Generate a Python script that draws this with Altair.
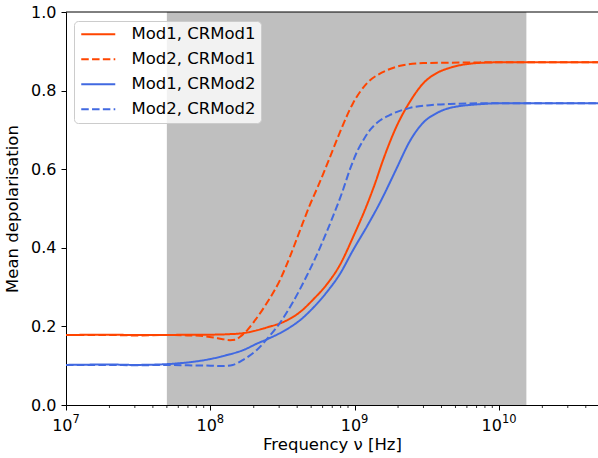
import altair as alt
import pandas as pd

# ---- data ----
f_r1 = [1e7, 2e7, 3e7, 5e7, 7e7, 1e8, 1.3e8, 1.7e8, 2.1e8, 2.5e8, 3.2e8, 4.2e8, 5.15e8, 6.45e8,
        7.9e8, 9.75e8, 1.22e9, 1.38e9, 1.57e9, 1.97e9, 2.42e9, 2.98e9, 3.72e9, 4.58e9, 7.0e9,
        1e10, 2e10, 5e10]
v_r1 = [0.178, 0.179, 0.178, 0.178, 0.179, 0.179, 0.180, 0.183, 0.190, 0.198, 0.211, 0.237,
        0.268, 0.308, 0.356, 0.427, 0.510, 0.562, 0.622, 0.712, 0.772, 0.818, 0.845, 0.858,
        0.870, 0.872, 0.872, 0.872]

f_r2 = [1e7, 2e7, 3e7, 5e7, 7e7, 8.5e7, 1.05e8, 1.2e8, 1.37e8, 1.5e8, 1.6e8, 1.8e8, 1.98e8,
        2.47e8, 3.04e8, 3.56e8, 4.19e8, 4.91e8, 5.6e8, 6.44e8, 7.93e8, 9.75e8, 1.22e9, 1.57e9,
        2.07e9, 2.98e9, 4.58e9, 1e10, 2e10, 5e10]
v_r2 = [0.178, 0.178, 0.177, 0.178, 0.177, 0.176, 0.172, 0.168, 0.165, 0.166, 0.173, 0.190,
        0.209, 0.260, 0.318, 0.377, 0.445, 0.510, 0.558, 0.612, 0.695, 0.768, 0.819, 0.847,
        0.863, 0.870, 0.871, 0.872, 0.872, 0.872]

f_b1 = [1e7, 2e7, 3e7, 5e7, 6e7, 8e7, 1e8, 1.3e8, 1.7e8, 2.1e8, 2.5e8, 3.4e8, 4.19e8, 5.15e8,
        6.44e8, 7.93e8, 9.75e8, 1.22e9, 1.5e9, 1.83e9, 1.96e9, 2.42e9, 2.98e9, 3.72e9,
        4.58e9, 7.8e9, 1e10, 2e10, 5e10]
v_b1 = [0.102, 0.103, 0.102, 0.104, 0.106, 0.111, 0.117, 0.127, 0.140, 0.156, 0.168, 0.193,
        0.216, 0.247, 0.288, 0.334, 0.394, 0.455, 0.515, 0.580, 0.603, 0.672, 0.718,
        0.743, 0.756, 0.766, 0.768, 0.768, 0.768]

f_b2 = [1e7, 2e7, 3e7, 5e7, 7e7, 1e8, 1.2e8, 1.43e8, 1.69e8, 2.1e8, 2.5e8, 3.04e8, 3.74e8,
        4.68e8, 5.75e8, 7.08e8, 8.18e8, 9.29e8, 1.05e9, 1.14e9, 1.28e9, 1.43e9, 1.76e9, 2.42e9,
        3.32e9, 4.58e9, 1e10, 2e10, 5e10]
v_b2 = [0.102, 0.102, 0.101, 0.102, 0.101, 0.100, 0.099, 0.102, 0.115, 0.140, 0.170, 0.209,
        0.262, 0.330, 0.400, 0.480, 0.540, 0.600, 0.648, 0.672, 0.700, 0.718, 0.738, 0.756,
        0.763, 0.766, 0.768, 0.768, 0.768]

series_names = ["Mod1, CRMod1", "Mod2, CRMod1", "Mod1, CRMod2", "Mod2, CRMod2"]
series_colors = ["#ff4500", "#ff4500", "#4169e1", "#4169e1"]
series_dash = [[1, 0], [7.5, 3.3], [1, 0], [7.5, 3.3]]

band_lo = [5e7]
band_hi = [1.55e10]

major_ticks = [1e7, 1e8, 1e9, 1e10]
major_exps = ["7", "8", "9", "10"]
minor_ticks = [m * 10 ** e for e in range(7, 11) for m in range(2, 10)]
y_ticks = [0.0, 0.2, 0.4, 0.6, 0.8, 1.0]

# ---- tables ----
rows = []
for name, fs, vs in zip(series_names, [f_r1, f_r2, f_b1, f_b2], [v_r1, v_r2, v_b1, v_b2]):
    for i, (f, v) in enumerate(zip(fs, vs)):
        rows.append({"series": name, "freq": f, "val": v, "order": i})
df = pd.DataFrame(rows)
band_df = pd.DataFrame({"lo": band_lo, "hi": band_hi, "y0": [0.0], "y1": [1.0]})
minor_df = pd.DataFrame({"t": [t for t in minor_ticks if t <= 4.86e10]})
major_df = pd.DataFrame({"t": major_ticks, "e": major_exps,
                         "n": [len(e) for e in major_exps]})

W, H = 532, 393
FONT = "DejaVu Sans"
xscale = alt.Scale(type="log", domain=[1e7, 4.86e10], nice=False)
yscale = alt.Scale(domain=[0, 1], nice=False)

band = alt.Chart(band_df).mark_rect(color="#bfbfbf").encode(
    x=alt.X("lo:Q", scale=xscale,
            axis=alt.Axis(values=major_ticks, labels=False, title="Frequency ν [Hz]",
                          grid=False, tickSize=5, titlePadding=26)),
    x2="hi:Q",
    y=alt.Y("y0:Q", scale=yscale,
            axis=alt.Axis(values=y_ticks, format=".1f", title="Mean depolarisation",
                          grid=False, tickSize=5, labelPadding=5, titlePadding=10)),
    y2="y1:Q",
)

leg = alt.Legend(title=None, orient="none", legendX=8, legendY=9)
lines = alt.Chart(df).mark_line(strokeWidth=2, clip=True, interpolate="monotone").encode(
    x=alt.X("freq:Q", scale=xscale),
    y=alt.Y("val:Q", scale=yscale),
    color=alt.Color("series:N",
                    scale=alt.Scale(domain=series_names, range=series_colors),
                    legend=leg),
    strokeDash=alt.StrokeDash("series:N",
                              scale=alt.Scale(domain=series_names, range=series_dash),
                              legend=leg),
    order="order:Q",
)

minor = alt.Chart(minor_df).mark_rule(color="black", strokeWidth=0.8).encode(
    x=alt.X("t:Q", scale=xscale),
    y=alt.value(H),
    y2=alt.value(H + 3),
)

# tick labels as 10 with a raised exponent
def tick_labels(nchar, shift):
    base = alt.Chart(major_df).transform_filter(f"datum.n == {nchar}")
    ten = base.mark_text(text="10", align="right", baseline="alphabetic", font=FONT,
                         fontSize=16, color="black", dx=shift).encode(
        x=alt.X("t:Q", scale=xscale), y=alt.value(H + 26))
    ex = base.mark_text(align="left", baseline="alphabetic", font=FONT,
                        fontSize=11.5, color="black", dx=shift).encode(
        x=alt.X("t:Q", scale=xscale), y=alt.value(H + 18), text="e:N")
    return [ten, ex]

top_spine = alt.Chart(band_df).mark_rule(color="black", strokeWidth=1).encode(
    x=alt.value(0), x2=alt.value(W), y=alt.value(0)
)

chart = alt.layer(band, lines, minor, *tick_labels(1, 6.5), *tick_labels(2, 3),
                  top_spine).properties(
    width=W, height=H,
    autosize=alt.AutoSizeParams(type="none"),
    padding={"left": 66, "top": 12, "right": 0, "bottom": 53},
).configure_view(stroke=None).configure_axis(
    labelFont=FONT, titleFont=FONT, labelFontSize=16, titleFontSize=16.5,
    labelColor="black", titleColor="black", titleFontWeight="normal",
    domainColor="black", tickColor="black", domainWidth=1, tickWidth=1,
).configure_legend(
    labelFont=FONT, labelFontSize=16.5, labelColor="black",
    symbolType="M-1,0H4.67", symbolStrokeWidth=2, symbolSize=144,
    symbolFillColor="transparent",
    labelOffset=36, rowPadding=8, padding=5,
    fillColor="rgba(255,255,255,0.8)", strokeColor="#cccccc", cornerRadius=4,
)

chart.save("out.html", embed_options={"renderer": "svg", "actions": False})
